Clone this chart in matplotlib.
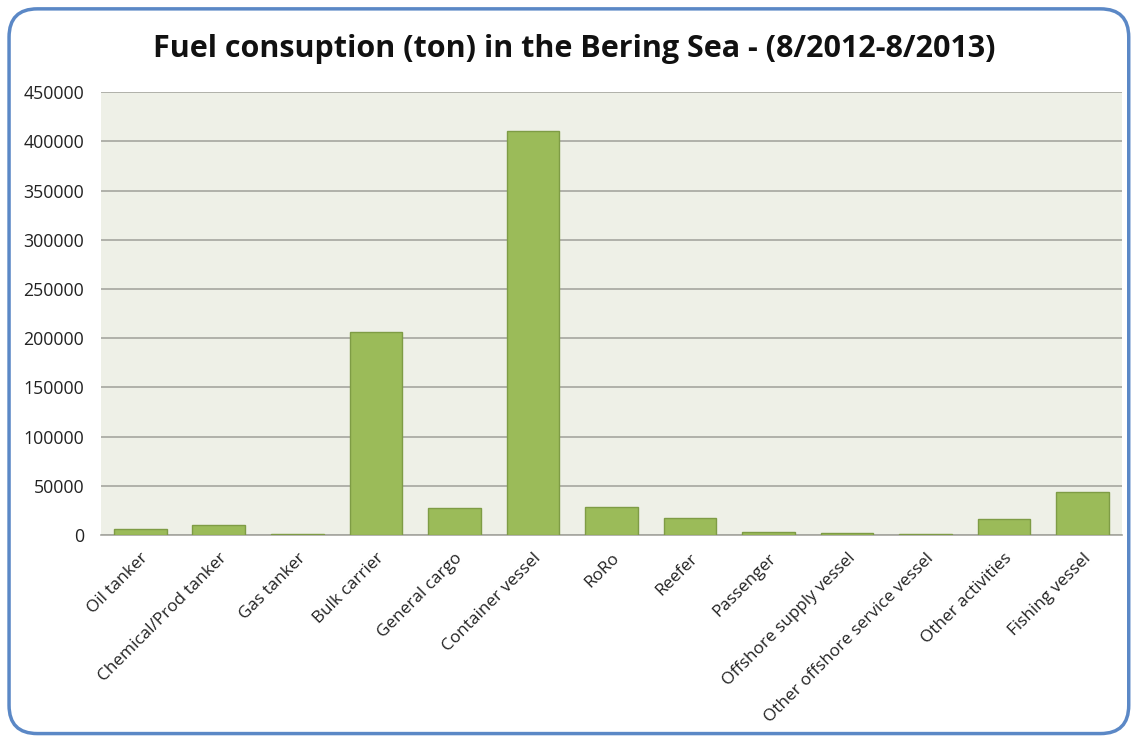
import matplotlib.pyplot as plt
from matplotlib.patches import FancyBboxPatch

categories = ["Oil tanker", "Chemical/Prod tanker", "Gas tanker", "Bulk carrier",
              "General cargo", "Container vessel", "RoRo", "Reefer", "Passenger",
              "Offshore supply vessel", "Other offshore service vessel",
              "Other activities", "Fishing vessel"]
fuel = [6000, 10500, 1300, 206000, 27700, 410500, 28500, 17600, 3400, 2300, 1300, 16000, 43400]
yticks = [0, 50000, 100000, 150000, 200000, 250000, 300000, 350000, 400000, 450000]

plt.rcParams["font.family"] = ["Open Sans", "DejaVu Sans"]

fig = plt.figure(figsize=(11.31, 7.38), dpi=100)
ax = fig.add_axes([0.0893, 0.275, 0.9027, 0.600])

# rounded blue frame around the whole chart
frame = FancyBboxPatch((0.008, 0.006), 0.990, 0.982, boxstyle="round,pad=0,rounding_size=0.025",
                       transform=fig.transFigure, fill=False, edgecolor="#5B88C6", linewidth=2.5,
                       mutation_aspect=11.31 / 7.38)
fig.patches.append(frame)

ax.set_facecolor("#EEF0E7")
x = range(len(categories))
ax.bar(x, fuel, width=0.67, color="#9BBB59", edgecolor="#7E9C45", linewidth=1, zorder=3)

ax.set_ylim(0, 450000)
ax.set_xlim(-0.5, len(categories) - 0.5)
ax.set_yticks(yticks)
ax.set_yticklabels([str(v) for v in yticks], fontsize=12.8, color="#222222")
ax.yaxis.grid(True, color="#A5A6A0", linewidth=1.2, zorder=0)
ax.set_axisbelow(True)
ax.tick_params(axis="both", length=0, pad=12)
ax.tick_params(axis="x", pad=11)
ax.set_xticks(list(x))
ax.set_xticklabels(categories, rotation=45, ha="right", rotation_mode="anchor",
                   fontsize=12.3, color="#222222")
for side in ["top", "right", "left"]:
    ax.spines[side].set_visible(False)
ax.spines["bottom"].set_color("#A5A6A0")
ax.spines["bottom"].set_linewidth(1.2)

fig.text(0.508, 0.933, "Fuel consuption (ton) in the Bering Sea - (8/2012-8/2013)",
         ha="center", va="center", fontsize=22, fontweight="bold", color="#111111")

fig.savefig("out.png", dpi=100)
